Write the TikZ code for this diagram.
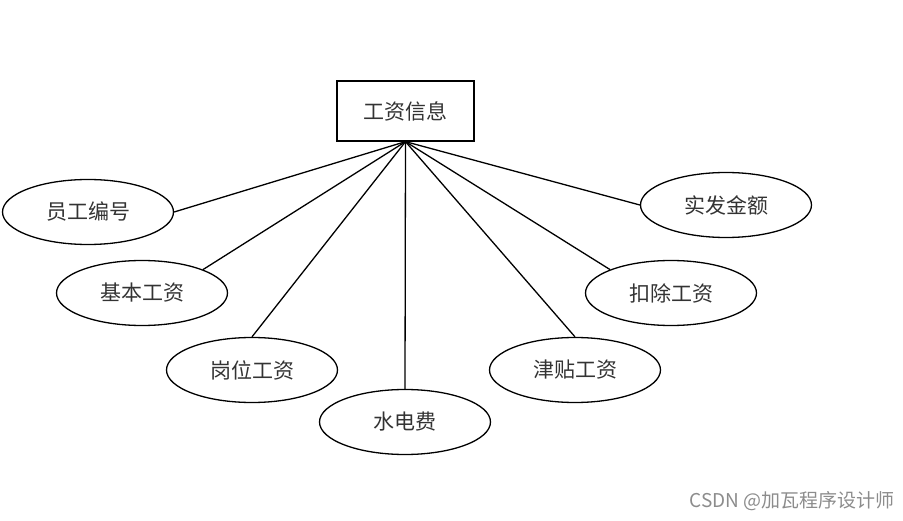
\documentclass[tikz,border=0pt]{standalone}
\usepackage{fontspec}
\setmainfont{Noto Sans CJK SC}
\usetikzlibrary{shapes.geometric, positioning}

\begin{document}
\begin{tikzpicture}[
    x=1pt, y=-1pt,
    entity/.style={rectangle, minimum width=137pt, minimum height=60pt, draw=black, line width=1.3pt, font=\fontsize{21}{24}\selectfont, text=black!80},
    attr/.style={ellipse, minimum width=171pt, minimum height=65pt, inner sep=0pt, draw=black, line width=1.3pt, font=\fontsize{21}{24}\selectfont, text=black!80},
    link/.style={line width=1.3pt, black}
]
    \useasboundingbox (0,0) rectangle (903,521);

    % Entity
    \node[entity] (info) at (405.5, 111) {工资信息};

    % Attributes
    \node[attr] (empid) at (88, 212) {员工编号};
    \node[attr] (basepay) at (142, 293) {基本工资};
    \node[attr] (postpay) at (252, 370) {岗位工资};
    \node[attr] (utility) at (405, 422) {水电费};
    \node[attr] (allowance) at (575, 370) {津贴工资};
    \node[attr] (deduct) at (671, 293) {扣除工资};
    \node[attr] (netpay) at (726, 205) {实发金额};

    % Links
    \draw[link] (info.south) -- (empid.east);
    \draw[link] (info.south) -- (basepay.21);
    \draw[link] (info.south) -- (postpay.north);
    \draw[link] (info.south) -- (utility.north);
    \draw[link] (info.south) -- (allowance.north);
    \draw[link] (info.south) -- (deduct.159);
    \draw[link] (info.south) -- (netpay.west);

    % Watermark
    \node[anchor=east, font=\fontsize{19}{22}\selectfont, text=black!45] (mark) at (898, 501) {CSDN @加瓦程序设计师};

\end{tikzpicture}
\end{document}
